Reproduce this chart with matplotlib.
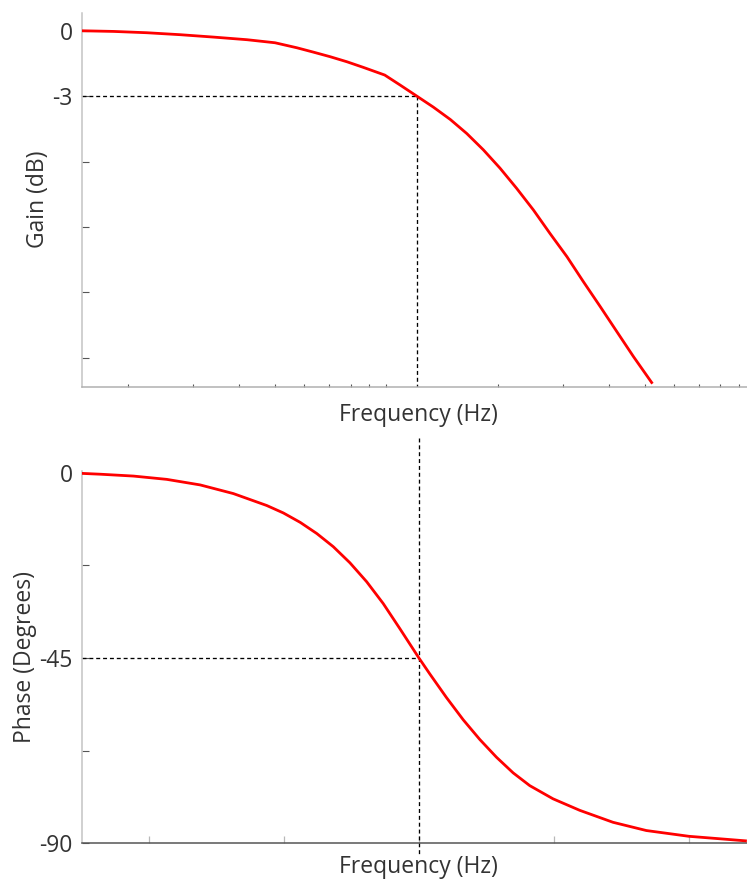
"""Bode plot of a low-pass filter: gain and phase against frequency."""

import matplotlib

matplotlib.use("Agg")

import matplotlib.pyplot as plt
from matplotlib.ticker import NullFormatter, NullLocator

C_RED = "#ff0000"
C_INK = "#333333"
C_SPINE = "#c4c4c4"
C_DARK = "#555555"

# gain curve
GAIN_FREQ = [1.5, 1.83, 2.25, 2.77, 3.41, 4.2, 5.0, 5.73, 6.35, 7.05, 7.82, 8.67, 9.9, 10.9,
             12.1, 13.4, 14.9, 16.5, 18.3, 20.3, 22.5, 25.0, 27.7, 30.8, 34.1, 37.9, 42.0,
             46.6, 52.2]
GAIN_DB = [0.0, -0.03, -0.09, -0.18, -0.29, -0.41, -0.55, -0.78, -0.98, -1.19, -1.42, -1.68,
           -2.03, -2.49, -3.0, -3.5, -4.07, -4.71, -5.46, -6.3, -7.22, -8.22, -9.29, -10.36,
           -11.50, -12.65, -13.79, -14.94, -16.13]
GAIN_CUTOFF = 12.1
GAIN_TICKS = [0, -3, -6, -9, -12, -15]
GAIN_TICK_LABELS = ["0", "-3", "", "", "", ""]

# phase curve
PHASE_FREQ = [0.317, 0.434, 0.765, 1.35, 2.39, 4.21, 7.45, 9.88, 13.2, 17.5, 23.2, 30.8, 41.0,
              54.4, 72.3, 100, 120.6, 160, 213, 283, 376, 500, 664, 988, 1560, 2750, 4860,
              10050, 26400]
PHASE_DEG = [-0.2, -0.4, -0.85, -1.65, -3.0, -5.1, -8.0, -9.8, -12.1, -14.8, -18.0, -21.9,
             -26.5, -31.8, -37.9, -45.0, -48.9, -54.6, -60.0, -64.8, -69.1, -72.9, -76.0,
             -79.2, -82.0, -84.9, -86.9, -88.3, -89.4]
PHASE_CUTOFF = 100
PHASE_TICKS = [0, -22.5, -45, -67.5, -90]
PHASE_TICK_LABELS = ["0", "", "-45", "", "-90"]


def _apply_style() -> None:
    plt.rcParams.update(
        {
            "font.family": ["Open Sans", "DejaVu Sans"],
            "font.size": 16.5,
            "text.color": C_INK,
            "axes.labelcolor": C_INK,
            "xtick.color": C_DARK,
            "ytick.color": C_DARK,
            "xtick.labelcolor": C_INK,
            "ytick.labelcolor": C_INK,
            "axes.unicode_minus": False,
        }
    )


def _dashed(ax, xs, ys, clip=True):
    ax.plot(xs, ys, color="black", lw=0.95, dashes=(3, 2.2), clip_on=clip, zorder=2)


def _base_axis(ax):
    for side in ("top", "right"):
        ax.spines[side].set_visible(False)
    ax.spines["left"].set_color(C_SPINE)
    ax.spines["left"].set_linewidth(1.1)
    ax.tick_params(axis="y", direction="in", length=5, width=0.8, pad=6.5)
    ax.set_xscale("log")
    ax.xaxis.set_major_formatter(NullFormatter())
    ax.xaxis.set_minor_formatter(NullFormatter())


def draw_gain(ax):
    _base_axis(ax)
    ax.spines["bottom"].set_color("#b0b0b0")
    ax.spines["bottom"].set_linewidth(1.1)
    ax.tick_params(axis="x", which="both", direction="in", length=2.5, width=0.8, color=C_DARK)

    ax.plot(GAIN_FREQ, GAIN_DB, color=C_RED, lw=2.0, zorder=3)
    ax.set_xlim(1.5, 100)
    ax.set_ylim(-16.32, 0.83)
    _dashed(ax, [1.5, GAIN_CUTOFF], [-3, -3])
    _dashed(ax, [GAIN_CUTOFF, GAIN_CUTOFF], [-3, -16.32])

    ax.set_yticks(GAIN_TICKS)
    ax.set_yticklabels(GAIN_TICK_LABELS)
    ax.set_ylabel("Gain (dB)", labelpad=1.5)
    ax.set_xlabel("Frequency (Hz)", labelpad=8.5)


def draw_phase(ax):
    _base_axis(ax)
    ax.spines["bottom"].set_color(C_DARK)
    ax.spines["bottom"].set_linewidth(1.1)
    ax.xaxis.set_minor_locator(NullLocator())
    ax.tick_params(axis="x", which="both", direction="in", length=5, width=0.9, color="#b8b8b8")

    ax.plot(PHASE_FREQ, PHASE_DEG, color=C_RED, lw=2.0, zorder=3)
    ax.set_xlim(10 ** -0.5, 10 ** 4.5)
    ax.set_ylim(-90, 0.45)
    _dashed(ax, [10 ** -0.5, PHASE_CUTOFF], [-45, -45])
    _dashed(ax, [PHASE_CUTOFF, PHASE_CUTOFF], [8.4, -92.7], clip=False)

    ax.set_yticks(PHASE_TICKS)
    ax.set_yticklabels(PHASE_TICK_LABELS)
    ax.set_ylabel("Phase (Degrees)", labelpad=1.5)
    ax.set_xlabel("Frequency (Hz)", labelpad=5)


def main() -> None:
    _apply_style()
    fig = plt.figure(figsize=(7.47, 8.8), dpi=100)
    ax_gain = fig.add_axes([0.1094, 0.5606, 0.9027, 0.425])
    ax_phase = fig.add_axes([0.1094, 0.0417, 0.9027, 0.4234])
    draw_gain(ax_gain)
    draw_phase(ax_phase)
    fig.savefig("out.png", dpi=100, facecolor="white")
    plt.close(fig)


if __name__ == "__main__":
    main()
